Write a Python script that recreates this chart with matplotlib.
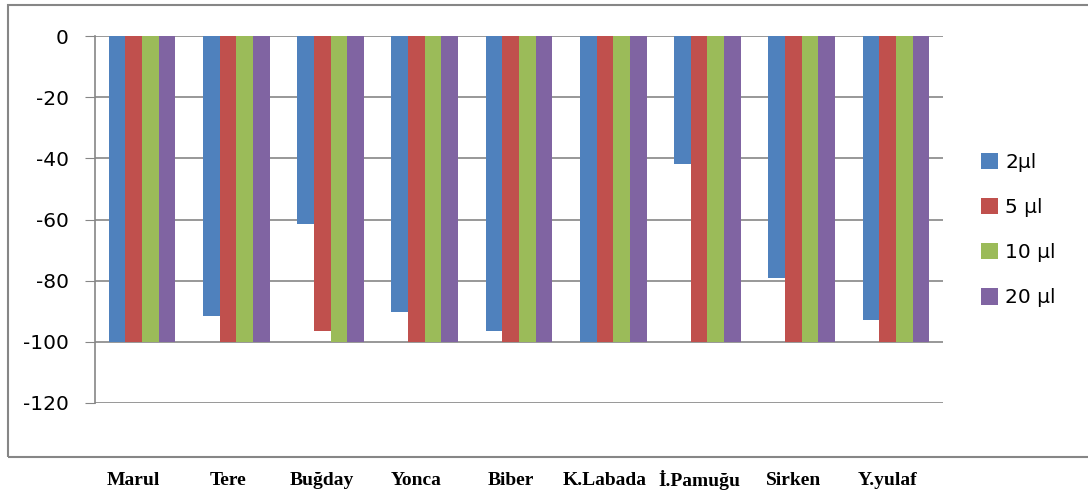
import numpy as np
import matplotlib
matplotlib.use("Agg")
import matplotlib.pyplot as plt
import matplotlib.transforms as mtransforms
from matplotlib.patches import Rectangle

plt.rcParams["axes.unicode_minus"] = False

# data
plants = ["Marul", "Tere", "Buğday", "Yonca", "Biber", "K.Labada", "İ.Pamuğu", "Sirken", "Y.yulaf"]
doses = ["2µl", "5 µl", "10 µl", "20 µl"]
v2 = [-100, -91.6, -61.5, -90.3, -96.5, -100, -42, -79, -93]
v5 = [-100, -100, -96.5, -100, -100, -100, -100, -100, -100]
v10 = [-100, -100, -100, -100, -100, -100, -100, -100, -100]
v20 = [-100, -100, -100, -100, -100, -100, -100, -100, -100]
colors = ["#4F81BD", "#C0504D", "#9BBB59", "#8064A2"]

fig = plt.figure(figsize=(10.88, 4.95), dpi=100)
ax = fig.add_axes([95/1088, 1 - 403/495, (943 - 95)/1088, (403 - 36)/495])

x = np.arange(len(plants))
w = 0.177
series = [v2, v5, v10, v20]
for i, vals in enumerate(series):
    ax.bar(x + (i - 1.5) * w, vals, width=w, color=colors[i], label=doses[i],
           zorder=3, linewidth=0)

ax.set_xlim(-0.5, len(plants) - 0.5)
ax.set_ylim(-120, 0)
ax.set_yticks(np.arange(-120, 1, 20))
ax.tick_params(axis="y", direction="out", length=7, color="#868686", labelsize=14.5, pad=12)
ax.set_xticks([])
ax.grid(axis="y", color="#868686", linewidth=1.2, zorder=0)
for s in ["top", "right", "bottom"]:
    ax.spines[s].set_visible(False)
ax.spines["left"].set_color("#868686")
ax.spines["left"].set_linewidth(1.2)

# category labels below the frame
trans = mtransforms.blended_transform_factory(ax.transData, fig.transFigure)
for i, p in enumerate(plants):
    ax.text(i - 0.09, 0.03, p, transform=trans, ha="center", va="center",
            fontsize=14, fontweight="bold", family="Liberation Serif")

# outer chart frame
fig.patches.append(Rectangle((8/1088, 1 - 457/495), 1.1, (457 - 5)/495, transform=fig.transFigure,
                             fill=False, edgecolor="#868686", linewidth=1.5))

ax.legend(loc="center left", bbox_to_anchor=(981/1088, 0.535), bbox_transform=fig.transFigure,
          frameon=False, fontsize=14.5, borderpad=0, borderaxespad=0, handlelength=0.85,
          handleheight=0.85, handletextpad=0.35, labelspacing=1.3)

fig.savefig("out.png", dpi=100)
